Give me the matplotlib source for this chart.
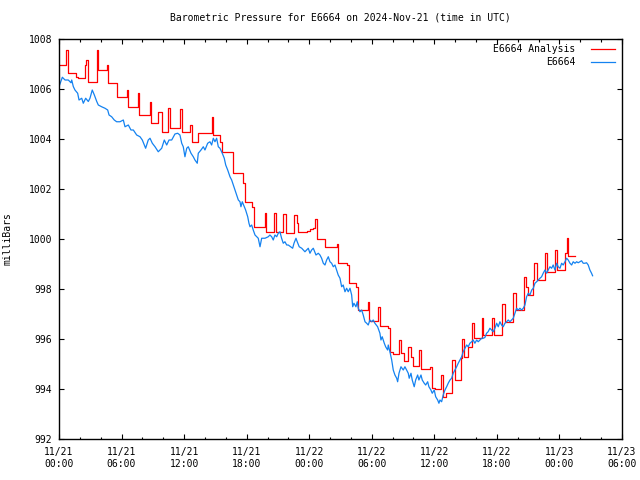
import matplotlib
matplotlib.use("Agg")
import matplotlib.pyplot as plt

plt.rcParams['font.family'] = ['DejaVu Sans Mono']

# hours since 2024-11-21 00:00 UTC
obs_hours = [
    0.00, 0.32, 0.58, 0.89, 1.15, 1.22, 1.37, 1.53, 1.79, 1.92, 2.18, 2.33, 2.56, 2.81, 2.97,
    3.19, 3.39, 3.62, 3.77, 4.09, 4.41, 4.67, 4.80, 5.05, 5.30, 5.53, 5.85, 6.17, 6.33, 6.65,
    6.90, 7.13, 7.45, 7.77, 7.99, 8.31, 8.56, 8.73, 8.95, 9.21, 9.52, 9.85, 10.10, 10.33, 10.55,
    10.81, 11.12, 11.38, 11.60, 11.77, 11.92, 12.08, 12.25, 12.40, 12.66, 12.88, 13.04, 13.26,
    13.36, 13.62, 13.84, 14.00, 14.26, 14.48, 14.64, 14.80, 14.96, 15.12, 15.28, 15.44, 15.66,
    15.85, 15.99, 16.18, 16.40, 16.56, 16.72, 16.88, 17.04, 17.20, 17.36, 17.45, 17.58, 17.77,
    17.90, 18.10, 18.22, 18.32, 18.48, 18.63, 18.80, 18.96, 19.11, 19.28, 19.44, 19.76, 20.07,
    20.23, 20.40, 20.55, 20.71, 20.88, 21.03, 21.19, 21.35, 21.51, 21.67, 21.84, 21.99, 22.22,
    22.41, 22.54, 22.73, 22.85, 23.04, 23.28, 23.43, 23.59, 23.75, 23.91, 24.07, 24.23, 24.39,
    24.65, 24.87, 25.03, 25.19, 25.35, 25.51, 25.67, 25.83, 25.99, 26.15, 26.31, 26.47, 26.63,
    26.78, 26.95, 27.11, 27.26, 27.43, 27.59, 27.74, 27.91, 28.07, 28.17, 28.29, 28.48, 28.61,
    28.70, 28.87, 29.03, 29.18, 29.35, 29.51, 29.66, 29.82, 29.99, 30.14, 30.30, 30.56, 30.78,
    30.88, 31.00, 31.20, 31.33, 31.52, 31.58, 31.74, 31.91, 32.06, 32.22, 32.39, 32.48, 32.61,
    32.80, 33.02, 33.18, 33.34, 33.50, 33.59, 33.76, 33.88, 34.07, 34.21, 34.40, 34.52, 34.72,
    34.84, 35.03, 35.17, 35.36, 35.48, 35.67, 35.80, 35.99, 36.13, 36.32, 36.44, 36.54, 36.70,
    36.85, 37.02, 37.18, 37.33, 37.50, 37.66, 37.81, 37.98, 38.14, 38.29, 38.46, 38.62, 38.77,
    38.94, 39.10, 39.25, 39.41, 39.58, 39.73, 39.89, 40.06, 40.21, 40.37, 40.54, 40.69, 40.85,
    41.01, 41.16, 41.33, 41.49, 41.65, 41.81, 41.98, 42.13, 42.29, 42.45, 42.61, 42.77, 42.93,
    43.09, 43.25, 43.41, 43.57, 43.73, 43.89, 44.05, 44.21, 44.37, 44.53, 44.69, 44.85, 45.01,
    45.17, 45.34, 45.49, 45.65, 45.81, 45.97, 46.13, 46.29, 46.44, 46.61, 46.77, 46.92, 47.09,
    47.25, 47.40, 47.57, 47.73, 47.88, 48.05, 48.21, 48.36, 48.53, 48.69, 48.84, 49.01, 49.17,
    49.32, 49.49, 49.65, 49.80, 49.96, 50.12, 50.28, 50.44, 50.60, 50.76, 50.92, 51.08, 51.18,
]
obs_mb = [
    1006.09, 1006.47, 1006.36, 1006.36, 1006.25, 1006.36, 1006.10, 1005.96, 1005.83, 1005.56,
    1005.63, 1005.43, 1005.63, 1005.50, 1005.63, 1005.96, 1005.76, 1005.50, 1005.36, 1005.29,
    1005.23, 1005.16, 1004.96, 1004.89, 1004.76, 1004.69, 1004.69, 1004.76, 1004.49, 1004.56,
    1004.36, 1004.36, 1004.16, 1004.09, 1003.96, 1003.63, 1003.96, 1004.03, 1003.83, 1003.69,
    1003.49, 1003.63, 1003.96, 1003.76, 1003.96,
    1003.96, 1004.20, 1004.23, 1004.16, 1003.83, 1003.69, 1003.29, 1003.63, 1003.69, 1003.43,
    1003.29, 1003.16, 1003.03, 1003.43, 1003.56, 1003.69, 1003.56, 1003.83, 1003.89, 1003.76,
    1004.03, 1003.89, 1004.03, 1003.69, 1003.63, 1003.43, 1003.23, 1002.96, 1002.76, 1002.49,
    1002.36, 1002.16, 1001.96, 1001.76, 1001.56, 1001.49, 1001.29, 1001.49, 1001.29, 1001.16,
    1000.89, 1000.63, 1000.49, 1000.56, 1000.36, 1000.16, 1000.09, 1000.03, 999.69, 1000.03,
    1000.03, 1000.09,
    1000.16, 1000.09, 999.96, 1000.16, 1000.09, 1000.23, 1000.29, 1000.03, 999.83, 999.89,
    999.76, 999.76, 999.69, 999.63, 999.83, 1000.03, 999.89, 999.69, 999.63, 999.56,
    999.49, 999.56, 999.63, 999.43, 999.56, 999.63, 999.36, 999.43, 999.36, 999.23,
    999.03, 998.96, 999.16, 999.29, 999.09, 999.03, 998.89, 998.96, 998.76, 998.56,
    998.43, 998.09, 998.16, 997.89, 998.03, 997.89, 998.03, 997.76, 997.29, 997.43,
    997.29, 997.49, 997.23, 997.09, 997.16, 996.96, 996.69, 996.63, 996.56, 996.76,
    996.69, 996.76, 996.63, 996.49, 996.23, 995.96, 996.09, 995.83, 995.69, 995.56,
    995.76, 995.49, 995.16, 994.76, 994.56, 994.43, 994.29, 994.63, 994.89, 994.76,
    994.89, 994.76, 994.63, 994.43, 994.63, 994.36, 994.09, 994.36, 994.56, 994.36,
    994.56, 994.36, 994.23, 994.16, 994.29, 994.09, 993.96, 993.83, 993.96, 993.69,
    993.56, 993.43, 993.56, 993.49, 993.76, 993.96, 994.09, 994.23, 994.36, 994.43,
    994.63, 994.76, 994.89, 995.03, 995.16, 995.29, 995.49, 995.63, 995.76, 995.69,
    995.83, 995.89, 995.96, 995.83, 995.96, 995.89, 995.96, 996.03, 996.03, 996.06,
    996.23, 996.29, 996.43, 996.36, 996.29, 996.43, 996.63, 996.49, 996.69, 996.56,
    996.49, 996.63, 996.69, 996.76, 996.69, 996.76, 996.83, 997.03, 997.23, 997.16,
    997.23, 997.16, 997.23, 997.36, 997.69, 997.83, 997.76, 997.96, 998.03, 998.23,
    998.29, 998.36, 998.43, 998.49, 998.63, 998.76, 998.63, 998.76, 998.89, 998.83,
    998.96, 998.76, 999.03, 998.89, 998.83, 999.03, 998.96, 999.09, 999.23, 999.16,
    999.03, 998.96, 999.09, 999.03, 999.09, 999.05, 999.09, 999.13, 999.03, 999.03,
    999.05, 998.96, 998.76, 998.63, 998.53,
]

# analysis: value holds from each time until the next one
ana_hours = [
    0.00, 0.67, 0.83, 1.60, 1.80, 2.50, 2.62, 2.81, 3.62, 3.77, 4.57, 4.73, 5.53, 6.49, 6.62,
    7.60, 7.72, 8.73, 8.82, 9.53, 9.90, 10.48, 10.65, 11.60, 11.77, 12.57, 12.79, 13.36, 14.65,
    14.80, 15.44, 15.66, 16.72, 17.68, 17.84, 18.54, 18.73, 19.76, 19.85, 20.62, 20.81, 21.51,
    21.74, 22.54, 22.80, 22.90, 23.76, 24.10, 24.35, 24.55, 24.72, 25.51, 26.63, 26.79, 27.65,
    27.84, 28.49, 28.71, 29.60, 29.73, 30.57, 30.76, 31.53, 31.75, 32.07, 32.61, 32.80, 33.12,
    33.50, 33.76, 33.98, 34.56, 34.72, 35.58, 35.80, 36.06, 36.64, 36.86, 37.09, 37.67, 37.98,
    38.56, 38.68, 38.87, 39.20, 39.58, 39.77, 40.54, 40.70, 41.56, 41.75, 42.52, 42.78, 43.57,
    43.80, 44.63, 44.76, 45.01, 45.49, 45.58, 45.82, 46.61, 46.78, 47.57, 47.74, 48.53, 48.69,
    48.85, 49.49,
]
ana_mb = [
    1006.96, 1007.56, 1006.63, 1006.49, 1006.43, 1006.96, 1007.16, 1006.29, 1007.56, 1006.76,
    1006.96, 1006.23, 1005.69, 1005.96, 1005.29, 1005.83, 1004.96, 1005.49, 1004.63, 1005.09,
    1004.29, 1005.23, 1004.43, 1005.20, 1004.29, 1004.56, 1003.89, 1004.23, 1004.89, 1004.16,
    1003.89, 1003.49, 1002.63, 1002.23, 1001.49, 1001.29, 1000.49, 1001.03, 1000.29, 1001.05,
    1000.27, 1001.00, 1000.23, 1000.96, 1000.63, 1000.29, 1000.33, 1000.39, 1000.43, 1000.79,
    999.99, 999.69, 999.80, 999.05, 998.96, 998.23, 998.07, 997.16, 997.49, 996.72,
    997.29, 996.52, 996.43, 995.49, 995.40, 995.96, 995.45, 995.13, 995.69, 995.29,
    994.92, 995.56, 994.79, 994.87, 994.03, 993.99, 994.56, 993.69, 993.83, 995.16,
    994.36, 995.23, 995.99, 995.29, 995.69, 996.65, 996.03, 996.83, 996.16, 996.83,
    996.16, 997.40, 996.69, 997.85, 997.16, 998.49, 998.09, 997.76, 998.36, 999.03,
    998.36, 999.43, 998.69, 999.56, 998.76, 999.43, 1000.03, 999.32, 999.32,
]

tick_hours = [0, 6, 12, 18, 24, 30, 36, 42, 48, 54]
tick_labels = ["11/21\n00:00", "11/21\n06:00", "11/21\n12:00", "11/21\n18:00", "11/22\n00:00",
               "11/22\n06:00", "11/22\n12:00", "11/22\n18:00", "11/23\n00:00", "11/23\n06:00"]
mb_ticks = [992, 994, 996, 998, 1000, 1002, 1004, 1006, 1008]

fig = plt.figure(figsize=(6.4, 4.8), dpi=100)
ax = fig.add_axes([59/640, 41/480, 563/640, 400/480])

ax.plot(ana_hours, ana_mb, color='#ff0000', lw=0.9, drawstyle='steps-post', label='E6664 Analysis')
ax.plot(obs_hours, obs_mb, color='#1482f0', lw=0.9, label='E6664')

ax.set_xlim(0, 54)
ax.set_ylim(992, 1008)
ax.set_xticks(tick_hours)
ax.set_xticklabels(tick_labels)
ax.set_xticks(range(0, 55, 2), minor=True)
ax.set_yticks(mb_ticks)
ax.tick_params(which='both', direction='in', top=True, right=True, labelsize=7, width=0.8)
ax.tick_params(which='major', length=3.5)
ax.tick_params(which='minor', length=1.8)
ax.tick_params(axis='x', pad=6)
ax.tick_params(axis='y', pad=5)
for s in ax.spines.values():
    s.set_linewidth(1.0)

ax.set_title('Barometric Pressure for E6664 on 2024-Nov-21 (time in UTC)', fontsize=7, pad=13)
ax.set_ylabel('milliBars', fontsize=7)
ax.yaxis.set_label_coords(-0.083, 0.5)

ax.legend(loc='upper right', bbox_to_anchor=(1 - 7/563, 1 - 5/400), borderpad=0, borderaxespad=0,
          frameon=False, markerfirst=False, fontsize=7, handlelength=2.5, handletextpad=1.6,
          labelspacing=0.35)

fig.savefig('out.png', dpi=100)
